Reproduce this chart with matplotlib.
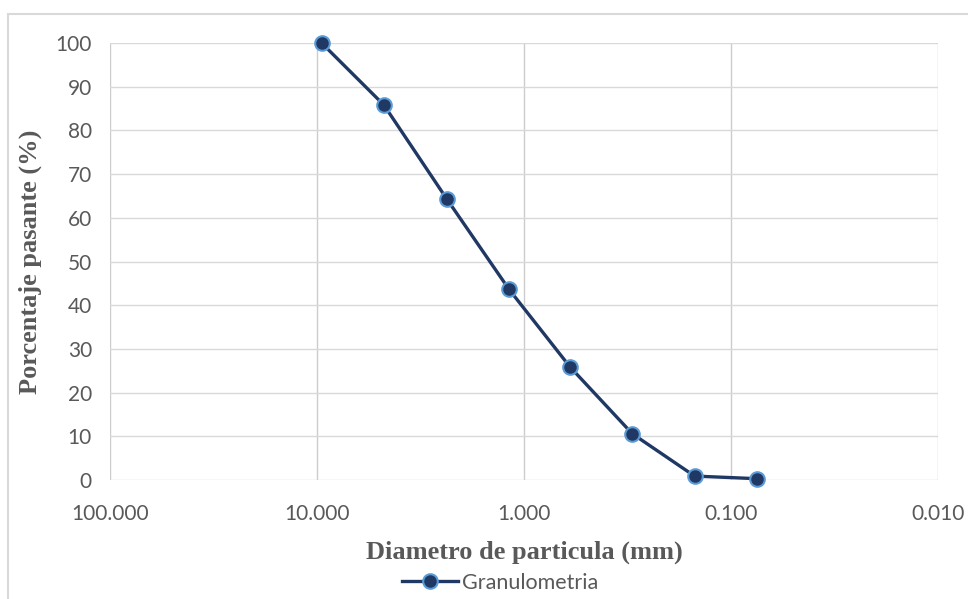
import matplotlib.pyplot as plt
from matplotlib.patches import Rectangle
from matplotlib.ticker import FixedLocator, FuncFormatter, NullLocator

# Curva granulométrica (tamiz en mm vs % que pasa)
diametros = [9.5, 4.75, 2.36, 1.18, 0.6, 0.3, 0.15, 0.075]
pasante = [100, 85.8, 64.3, 43.6, 25.9, 10.6, 0.9, 0.3]

x_ticks = [100, 10, 1, 0.1, 0.01]
y_ticks = [0, 10, 20, 30, 40, 50, 60, 70, 80, 90, 100]

W, H = 968, 599
fig = plt.figure(figsize=(W / 100, H / 100), dpi=100)

# marco exterior del gráfico (sale por la derecha y por abajo)
fig.patches.append(Rectangle((8 / W, -0.1), 1.2, (H - 14) / H + 0.1, transform=fig.transFigure,
                             fill=False, edgecolor="#d9d9d9", linewidth=1.5))

ax = fig.add_axes([110 / W, (H - 480) / H, 828 / W, 437 / H])
ax.set_xscale("log")
ax.set_xlim(100, 0.01)
ax.set_ylim(0, 100)

for s in ax.spines.values():
    s.set_visible(False)

ax.xaxis.set_major_locator(FixedLocator(x_ticks))
ax.xaxis.set_minor_locator(NullLocator())
ax.xaxis.set_major_formatter(FuncFormatter(lambda v, p: "{:.3f}".format(v)))
ax.set_yticks(y_ticks)

for t in x_ticks:
    ax.axvline(t, color="#cccccc", linewidth=1.0, zorder=0)
for t in y_ticks:
    ax.axhline(t, color="#d9d9d9", linewidth=1.0, zorder=0)

ax.tick_params(length=0, labelsize=15, labelcolor="#595959")
ax.tick_params(axis="x", pad=17)
ax.tick_params(axis="y", pad=13)
for lbl in ax.get_xticklabels() + ax.get_yticklabels():
    lbl.set_family("Lato")

ax.plot(diametros, pasante, color="#1f3864", linewidth=2.4, marker="o",
        markersize=10.5, markerfacecolor="#1f3864", markeredgecolor="#5b9bd5",
        markeredgewidth=1.5, label="Granulometria", zorder=3, clip_on=False)

ax.set_xlabel("Diametro de particula (mm)", fontsize=19, fontweight="bold",
              family="Liberation Serif", color="#595959", labelpad=12)
ax.set_ylabel("Porcentaje pasante (%)", fontsize=19, fontweight="bold",
              family="Liberation Serif", color="#595959", labelpad=10)

leg = fig.legend(loc="center", bbox_to_anchor=(500 / W, (H - 583) / H), frameon=False,
                 prop={"family": "Lato", "size": 15.5}, handlelength=2.6, handletextpad=0.2)
for txt in leg.get_texts():
    txt.set_color("#595959")

fig.savefig("out.png", dpi=100)
